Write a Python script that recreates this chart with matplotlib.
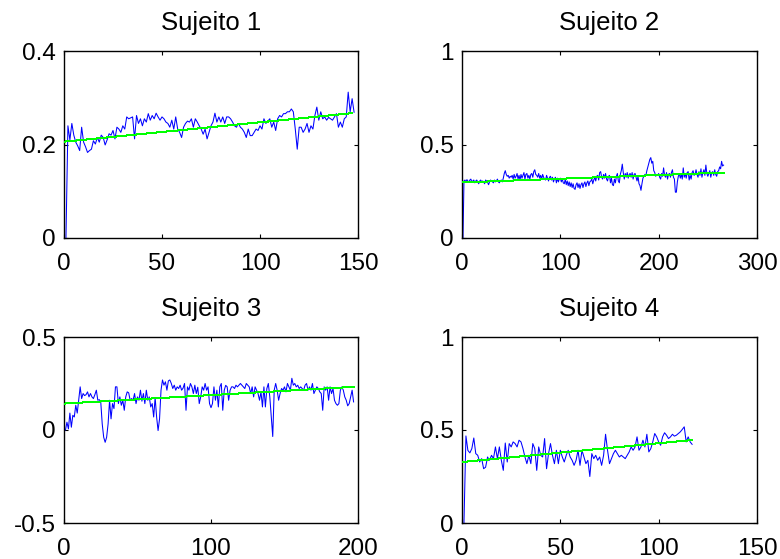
import numpy as np
import matplotlib
matplotlib.use("Agg")
import matplotlib.pyplot as plt

plt.rcParams['font.family'] = ['Liberation Sans', 'DejaVu Sans']

titles = ["Sujeito 1", "Sujeito 2", "Sujeito 3", "Sujeito 4"]

s1 = [0.0, 0.24, 0.21, 0.245, 0.22, 0.205, 0.197, 0.187, 0.237, 0.205,
      0.195, 0.183, 0.187, 0.19, 0.208, 0.201, 0.215, 0.205, 0.22, 0.215,
      0.199, 0.21, 0.223, 0.22, 0.23, 0.212, 0.237, 0.233, 0.226, 0.24,
      0.233, 0.259, 0.255, 0.257, 0.259, 0.212, 0.262, 0.245, 0.255, 0.24,
      0.255, 0.248, 0.266, 0.252, 0.262, 0.255, 0.267, 0.259, 0.252, 0.259,
      0.255, 0.248, 0.245, 0.237, 0.252, 0.233, 0.259, 0.233, 0.226, 0.215,
      0.237, 0.245, 0.25, 0.248, 0.255, 0.237, 0.255, 0.248, 0.24, 0.233,
      0.222, 0.233, 0.212, 0.226, 0.24, 0.248, 0.267, 0.248, 0.259, 0.248,
      0.259, 0.245, 0.259, 0.259, 0.255, 0.248, 0.24, 0.237, 0.245, 0.237,
      0.233, 0.226, 0.215, 0.233, 0.219, 0.219, 0.226, 0.233, 0.23, 0.24,
      0.233, 0.255, 0.245, 0.25, 0.255, 0.237, 0.248, 0.23, 0.255, 0.262,
      0.259, 0.266, 0.266, 0.27, 0.27, 0.276, 0.27, 0.233, 0.19, 0.237,
      0.237, 0.226, 0.233, 0.245, 0.226, 0.24, 0.233, 0.262, 0.28, 0.252,
      0.27, 0.255, 0.259, 0.252, 0.258, 0.255, 0.252, 0.259, 0.266, 0.237,
      0.248, 0.237, 0.255, 0.259, 0.312, 0.27, 0.298, 0.269]

s2 = [0.0, 0.305, 0.31, 0.30, 0.312, 0.305, 0.298, 0.31, 0.315, 0.30,
      0.305, 0.31, 0.295, 0.305, 0.31, 0.30, 0.29, 0.305, 0.31, 0.30,
      0.305, 0.30, 0.29, 0.31, 0.305, 0.298, 0.285, 0.30, 0.31, 0.305,
      0.30, 0.295, 0.31, 0.30, 0.305, 0.315, 0.30, 0.295, 0.305, 0.31,
      0.30, 0.32, 0.345, 0.36, 0.34, 0.33, 0.335, 0.32, 0.33, 0.325,
      0.335, 0.315, 0.34, 0.32, 0.33, 0.345, 0.315, 0.335, 0.31, 0.34,
      0.32, 0.335, 0.35, 0.315, 0.34, 0.345, 0.32, 0.335, 0.315, 0.34,
      0.345, 0.325, 0.355, 0.365, 0.34, 0.335, 0.325, 0.345, 0.32, 0.335,
      0.315, 0.34, 0.325, 0.315, 0.31, 0.335, 0.32, 0.305, 0.325, 0.33,
      0.31, 0.325, 0.30, 0.315, 0.325, 0.295, 0.32, 0.30, 0.315, 0.32,
      0.30, 0.315, 0.295, 0.29, 0.315, 0.285, 0.305, 0.28, 0.30, 0.275,
      0.295, 0.27, 0.29, 0.265, 0.26, 0.285, 0.295, 0.27, 0.29, 0.265,
      0.285, 0.295, 0.27, 0.29, 0.30, 0.275, 0.295, 0.305, 0.28, 0.30,
      0.305, 0.315, 0.29, 0.31, 0.325, 0.305, 0.33, 0.335, 0.31, 0.35,
      0.355, 0.325, 0.315, 0.34, 0.32, 0.345, 0.315, 0.305, 0.33, 0.335,
      0.295, 0.32, 0.285, 0.28, 0.315, 0.295, 0.33, 0.345, 0.305, 0.295,
      0.34, 0.36, 0.395, 0.35, 0.315, 0.345, 0.325, 0.35, 0.32, 0.34,
      0.345, 0.325, 0.35, 0.315, 0.34, 0.345, 0.325, 0.305, 0.33, 0.29,
      0.28, 0.255, 0.29, 0.32, 0.33, 0.34, 0.335, 0.36, 0.38, 0.40,
      0.42, 0.43, 0.40, 0.41, 0.36, 0.35, 0.33, 0.34, 0.335, 0.345,
      0.325, 0.315, 0.345, 0.33, 0.375, 0.335, 0.325, 0.35, 0.315, 0.34,
      0.345, 0.325, 0.35, 0.365, 0.325, 0.315, 0.245, 0.245, 0.30, 0.33,
      0.345, 0.32, 0.34, 0.315, 0.375, 0.325, 0.345, 0.32, 0.35, 0.355,
      0.31, 0.335, 0.315, 0.35, 0.36, 0.335, 0.34, 0.365, 0.34, 0.325,
      0.355, 0.335, 0.37, 0.325, 0.35, 0.365, 0.335, 0.39, 0.345, 0.33,
      0.345, 0.36, 0.325, 0.35, 0.355, 0.335, 0.365, 0.34, 0.33, 0.355,
      0.36, 0.38, 0.37, 0.41, 0.385, 0.39]

s3 = [0.0, 0.042, 0.006, 0.091, 0.015, 0.079, 0.07, 0.133, 0.091, 0.16,
      0.232, 0.169, 0.196, 0.185, 0.19, 0.205, 0.178, 0.196, 0.178, 0.169,
      0.19, 0.214, 0.16, 0.163, 0.151, 0.033, -0.039, -0.066, -0.039, 0.033,
      0.16, 0.06, 0.142, 0.115, 0.232, 0.232, 0.142, 0.178, 0.133, 0.16,
      0.106, 0.178, 0.205, 0.2, 0.16, 0.169, 0.16, 0.196, 0.142, 0.178,
      0.16, 0.214, 0.155, 0.196, 0.142, 0.214, 0.16, 0.178, 0.124, 0.142,
      0.07, 0.175, 0.07, -0.003, 0.06, 0.214, 0.269, 0.241, 0.259, 0.214,
      0.264, 0.269, 0.25, 0.223, 0.241, 0.214, 0.232, 0.223, 0.241, 0.214,
      0.225, 0.25, 0.106, 0.232, 0.214, 0.25, 0.232, 0.196, 0.241, 0.196,
      0.23, 0.142, 0.178, 0.232, 0.214, 0.25, 0.214, 0.232, 0.142, 0.12,
      0.142, 0.232, 0.16, 0.214, 0.124, 0.232, 0.25, 0.106, 0.214, 0.24,
      0.232, 0.16, 0.214, 0.232, 0.232, 0.223, 0.241, 0.232, 0.241, 0.25,
      0.241, 0.232, 0.223, 0.25, 0.241, 0.232, 0.196, 0.232, 0.178, 0.232,
      0.214, 0.196, 0.16, 0.205, 0.124, 0.232, 0.124, 0.223, 0.25, 0.178,
      0.07, -0.035, 0.214, 0.25, 0.214, 0.16, 0.196, 0.223, 0.214, 0.232,
      0.205, 0.25, 0.232, 0.214, 0.278, 0.241, 0.25, 0.232, 0.241, 0.223,
      0.232, 0.223, 0.214, 0.241, 0.25, 0.214, 0.232, 0.214, 0.25, 0.196,
      0.214, 0.232, 0.223, 0.205, 0.196, 0.106, 0.232, 0.214, 0.232, 0.16,
      0.232, 0.196, 0.223, 0.16, 0.142, 0.133, 0.142, 0.214, 0.232, 0.214,
      0.178, 0.16, 0.13, 0.142, 0.178, 0.214, 0.151]

s4 = [0.0, 0.468, 0.39, 0.377, 0.40, 0.457, 0.373, 0.364, 0.328, 0.346,
      0.292, 0.30, 0.355, 0.337, 0.364, 0.346, 0.409, 0.346, 0.409, 0.337,
      0.283, 0.43, 0.328, 0.427, 0.409, 0.436, 0.427, 0.409, 0.445, 0.436,
      0.40, 0.355, 0.319, 0.364, 0.319, 0.427, 0.40, 0.283, 0.409, 0.364,
      0.355, 0.454, 0.292, 0.373, 0.427, 0.364, 0.319, 0.391, 0.319, 0.391,
      0.355, 0.328, 0.364, 0.391, 0.355, 0.337, 0.31, 0.337, 0.391, 0.31,
      0.391, 0.355, 0.319, 0.337, 0.25, 0.373, 0.346, 0.364, 0.337, 0.355,
      0.31, 0.364, 0.477, 0.391, 0.319, 0.346, 0.373, 0.391, 0.373, 0.355,
      0.364, 0.355, 0.346, 0.364, 0.382, 0.409, 0.391, 0.409, 0.463, 0.391,
      0.409, 0.445, 0.409, 0.477, 0.382, 0.40, 0.436, 0.481, 0.463, 0.436,
      0.418, 0.463, 0.485, 0.472, 0.454, 0.463, 0.477, 0.467, 0.472, 0.481,
      0.49, 0.503, 0.517, 0.436, 0.463, 0.436, 0.423]

series = [s1, s2, s3, s4]

# trend line end points (x, y)
trend_x = [[0, 147], [0, 266], [0, 197], [0, 117]]
trend_y = [[0.206, 0.267], [0.297, 0.350], [0.142, 0.232], [0.328, 0.446]]

xlims = [(0, 150), (0, 300), (0, 200), (0, 150)]
ylims = [(0, 0.4), (0, 1), (-0.5, 0.5), (0, 1)]
xticks = [[0, 50, 100, 150], [0, 100, 200, 300], [0, 100, 200], [0, 50, 100, 150]]
xticklabels = [["0", "50", "100", "150"], ["0", "100", "200", "300"],
               ["0", "100", "200"], ["0", "50", "100", "150"]]
yticks = [[0, 0.2, 0.4], [0, 0.5, 1], [-0.5, 0, 0.5], [0, 0.5, 1]]
yticklabels = [["0", "0.2", "0.4"], ["0", "0.5", "1"], ["-0.5", "0", "0.5"],
               ["0", "0.5", "1"]]

fig = plt.figure(figsize=(7.8, 5.59), dpi=100)
positions = [
    [64 / 780, 1 - 238 / 559, 294 / 780, 187 / 559],
    [462 / 780, 1 - 238 / 559, 295 / 780, 187 / 559],
    [64 / 780, 1 - 523 / 559, 294 / 780, 186 / 559],
    [462 / 780, 1 - 523 / 559, 295 / 780, 186 / 559],
]

for k in range(4):
    ax = fig.add_axes(positions[k])
    y = np.array(series[k])
    x = np.arange(1, len(y) + 1)
    ax.plot(x, y, color='#0000FF', lw=0.75, zorder=2)
    ax.plot(trend_x[k], trend_y[k], color='#00FF00', lw=0.72,
            antialiased=False, zorder=3)
    ax.set_xlim(*xlims[k])
    ax.set_ylim(*ylims[k])
    ax.set_xticks(xticks[k])
    ax.set_xticklabels(xticklabels[k])
    ax.set_yticks(yticks[k])
    ax.set_yticklabels(yticklabels[k])
    ax.tick_params(direction='in', top=True, right=True, length=3,
                   width=0.8, labelsize=17.5, colors='black')
    ax.tick_params(axis='x', pad=10.5)
    ax.tick_params(axis='y', pad=6)
    for sp in ax.spines.values():
        sp.set_linewidth(1.0)
        sp.set_color('black')
    ax.set_title(titles[k], fontsize=18.5, pad=15)

fig.savefig("out.png", dpi=100)
